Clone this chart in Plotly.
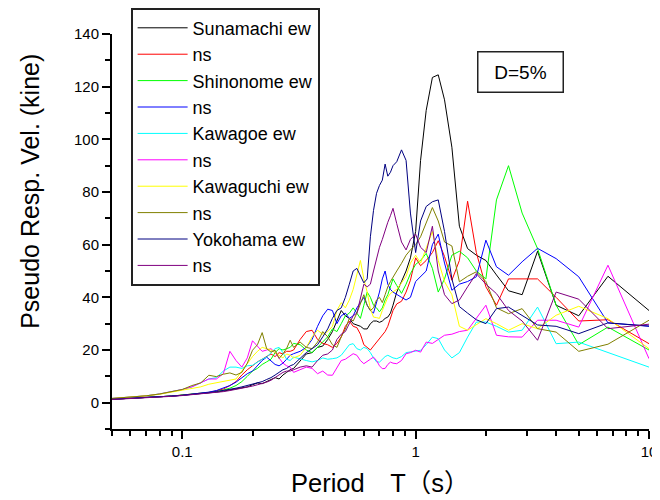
import plotly.graph_objects as go

# Period grid (s)
periods = [0.05, 0.06, 0.07, 0.08, 0.09, 0.10, 0.11, 0.12, 0.13, 0.14,
           0.15, 0.16, 0.17, 0.18, 0.19, 0.20, 0.21, 0.22, 0.23, 0.24,
           0.25, 0.26, 0.27, 0.28, 0.29, 0.30, 0.32, 0.34, 0.36, 0.38,
           0.40, 0.42, 0.44, 0.46, 0.48, 0.50, 0.52, 0.54, 0.56, 0.58,
           0.60, 0.62, 0.64, 0.66, 0.68, 0.70, 0.72, 0.74, 0.76, 0.78,
           0.80, 0.83, 0.87, 0.91, 0.95, 1.00, 1.05, 1.11, 1.18, 1.25,
           1.33, 1.43, 1.54, 1.67, 1.82, 2.00, 2.22, 2.50, 2.86, 3.33,
           4.00, 5.00, 6.67, 10.0]

sunamachi_ew = [1.3, 1.6, 1.9, 2.2, 2.5, 2.8, 3.1, 3.4, 3.7, 4.0,
                4.4, 4.8, 5.2, 5.5, 6.0, 6.8, 7.5, 7.2, 8.0, 9.0,
                9.5, 9.0, 10.5, 11.5, 12.5, 13.0, 16.0, 18.5, 19.0, 21.0,
                21.5, 24.0, 27.0, 31.0, 35.0, 33.0, 32.0, 30.0, 29.5, 29.0,
                28.0, 28.0, 30.0, 31.0, 31.0, 30.5, 31.0, 32.0, 32.5, 34.0,
                37.0, 42.0, 46.0, 50.0, 55.0, 65.0, 92.0, 111.0, 123.5, 124.5,
                115.0, 97.0, 67.0, 58.5, 56.0, 54.0, 48.5, 42.5, 41.0, 57.5,
                37.0, 33.0, 48.0, 35.0]
sunamachi_ns = [1.3, 1.6, 1.9, 2.2, 2.5, 2.9, 3.2, 3.5, 3.9, 4.5,
                5.2, 6.5, 8.0, 10.5, 12.5, 14.0, 15.5, 16.5, 17.5, 18.5,
                17.5, 19.0, 18.5, 19.5, 19.5, 20.0, 24.0, 27.0, 27.5, 24.0,
                22.5, 22.0, 21.0, 22.5, 25.0, 29.0, 31.0, 29.0, 28.5, 26.0,
                22.0, 21.0, 20.0, 21.5, 23.0, 24.0, 25.5, 27.0, 29.0, 32.0,
                35.0, 37.5, 38.5, 42.0, 46.5, 55.0, 52.0, 54.0, 57.0, 61.5,
                55.5, 46.5, 54.0, 76.5, 57.0, 44.0, 37.0, 47.0, 47.0, 47.0,
                40.0, 31.0, 31.5, 22.4]
shinonome_ew = [1.3, 1.6, 1.9, 2.2, 2.5, 2.9, 3.2, 3.5, 3.8, 4.2,
                4.8, 5.5, 6.5, 8.0, 10.0, 12.0, 13.0, 14.5, 15.5, 16.5,
                19.0, 20.5, 20.0, 20.5, 21.0, 22.5, 22.0, 20.0, 19.0, 21.0,
                23.0, 25.0, 28.0, 27.0, 30.0, 33.0, 34.0, 36.0, 34.0, 32.0,
                37.0, 42.0, 40.0, 37.0, 36.0, 34.5, 36.0, 39.0, 41.0, 44.0,
                47.0, 44.5, 41.5, 45.0, 49.0, 52.5, 54.0, 56.7, 51.0, 42.0,
                47.0, 56.0, 57.5, 55.0, 50.0, 47.0, 77.0, 90.0, 72.0, 58.5,
                37.0, 22.0, 28.7, 20.0]
shinonome_ns = [1.3, 1.6, 1.9, 2.2, 2.5, 2.8, 3.2, 3.6, 4.0, 4.6,
                5.5, 6.5, 7.8, 9.5, 11.0, 12.0, 14.0, 16.0, 17.3, 16.0,
                14.5, 14.0, 15.0, 16.5, 18.0, 18.6, 19.5, 21.0, 24.0, 29.0,
                33.0, 35.5, 35.0, 30.0, 33.0, 34.0, 32.0, 33.0, 36.0, 38.0,
                40.0, 37.0, 35.0, 34.0, 38.0, 42.0, 47.0, 50.0, 45.0, 43.0,
                42.0, 41.0, 40.0, 39.0, 40.0, 46.0, 48.0, 50.0, 60.0, 64.0,
                53.0, 42.7, 45.0, 46.0, 47.8, 61.7, 51.6, 48.4, 53.5, 58.6,
                54.7, 47.8, 30.3, 29.0]
kawagoe_ew = [1.6, 2.0, 2.6, 3.3, 4.1, 5.0, 6.0, 7.5, 9.0, 9.5,
              12.0, 13.5, 13.5, 13.0, 14.0, 14.2, 15.5, 16.5, 17.3, 19.0,
              20.5, 21.0, 19.0, 16.5, 16.0, 17.3, 16.5, 16.0, 15.5, 16.0,
              17.0, 16.5, 16.7, 17.0, 18.0, 20.0, 22.0, 22.4, 20.5, 20.0,
              21.0, 20.5, 19.0, 17.0, 15.5, 15.4, 16.5, 17.5, 18.0, 17.5,
              17.0, 16.7, 17.5, 19.0, 19.2, 19.5, 19.9, 22.0, 24.9, 24.3,
              20.0, 17.0, 19.0, 24.9, 30.6, 30.6, 29.0, 26.8, 27.5, 36.3,
              22.4, 23.0, 19.0, 13.5]
kawagoe_ns = [1.6, 2.0, 2.6, 3.3, 4.1, 5.0, 6.0, 7.5, 9.0, 9.0,
              11.0, 19.5, 16.0, 13.5, 17.0, 23.5, 21.5, 19.5, 20.0, 20.5,
              19.0, 17.0, 15.0, 14.0, 13.5, 11.5, 12.5, 13.5, 13.0, 11.0,
              12.0, 10.5, 10.4, 13.0, 16.0, 16.5, 17.5, 18.6, 18.0, 16.0,
              14.8, 15.5, 16.5, 17.3, 16.0, 14.0, 12.9, 13.0, 14.5, 15.4,
              15.0, 14.8, 16.0, 18.6, 19.0, 19.9, 19.2, 23.0, 22.5, 24.0,
              25.6, 26.0, 27.0, 27.5, 32.0, 37.0, 25.6, 25.0, 24.9, 31.3,
              31.3, 28.7, 52.2, 16.7]
kawaguchi_ew = [1.6, 2.0, 2.6, 3.2, 4.0, 4.8, 5.5, 6.0, 7.0, 7.5,
                8.0, 8.5, 9.0, 12.0, 15.0, 17.5, 19.5, 21.0, 20.5, 20.0,
                19.0, 18.0, 17.0, 18.5, 18.0, 17.0, 18.0, 21.0, 25.0, 27.5,
                26.0, 27.0, 29.0, 35.0, 38.0, 36.0, 39.0, 43.0, 49.0, 54.0,
                47.0, 42.0, 35.5, 32.5, 32.3, 32.0, 35.0, 37.5, 40.0, 41.5,
                42.0, 43.0, 45.5, 48.0, 53.0, 56.0, 53.0, 59.0, 65.0, 54.0,
                46.0, 41.0, 29.0, 27.5, 29.5, 31.9, 30.0, 27.5, 30.0, 28.1,
                33.2, 36.6, 31.9, 20.5]
kawaguchi_ns = [1.6, 2.0, 2.6, 3.3, 4.1, 5.0, 6.5, 7.5, 10.4, 9.9,
                10.8, 11.3, 10.5, 11.5, 15.0, 19.9, 22.0, 26.6, 20.5, 19.2,
                19.9, 16.8, 18.5, 20.6, 23.7, 21.0, 23.0, 21.0, 20.5, 23.0,
                27.0, 25.0, 22.0, 21.0, 25.0, 28.0, 32.0, 31.0, 34.0, 38.0,
                41.0, 37.0, 35.0, 36.0, 39.0, 40.0, 38.0, 41.0, 44.0, 46.0,
                47.8, 50.0, 52.9, 56.0, 58.0, 60.0, 63.0, 68.0, 74.1, 69.0,
                61.0, 59.5, 45.9, 48.0, 49.7, 46.0, 36.0, 33.8, 35.7, 28.1,
                26.8, 19.5, 22.2, 31.3]
yokohama_ew = [1.3, 1.6, 1.9, 2.2, 2.5, 2.8, 3.1, 3.4, 3.8, 4.2,
               4.6, 5.0, 5.5, 6.0, 6.5, 7.0, 7.5, 8.0, 8.8, 9.5,
               10.5, 11.5, 12.5, 13.0, 14.0, 14.5, 17.0, 19.0, 20.5, 22.0,
               25.0, 28.0, 32.0, 35.0, 36.0, 40.0, 45.0, 50.0, 51.0, 48.0,
               45.5, 47.0, 63.0, 73.0, 79.5, 82.5, 84.5, 90.6, 86.0, 87.5,
               90.0, 91.5, 96.0, 92.0, 72.0, 57.0, 69.0, 74.5, 76.3, 77.0,
               65.0, 47.0, 36.5, 34.0, 31.5, 30.0, 35.7, 36.3, 33.0, 29.5,
               29.0, 26.2, 30.3, 29.1]
yokohama_ns = [1.2, 1.5, 1.8, 2.1, 2.4, 2.7, 3.0, 3.3, 3.6, 3.9,
               4.2, 4.6, 5.0, 5.4, 5.8, 6.3, 6.8, 7.2, 7.8, 8.5,
               9.5, 10.5, 11.5, 12.0, 12.0, 12.5, 13.5, 14.0, 13.5, 16.0,
               18.0, 18.5, 20.0, 24.0, 26.0, 27.0, 30.0, 33.0, 34.0, 40.0,
               45.0, 44.0, 45.0, 50.0, 55.0, 59.0, 62.0, 65.5, 68.5, 71.0,
               73.8, 68.0, 61.0, 58.0, 62.0, 64.0, 59.0, 57.0, 67.0, 50.0,
               41.0, 37.6, 39.0, 44.0, 49.0, 45.0, 41.4, 35.0, 31.0, 23.7,
               42.0, 39.3, 28.1, 29.8]

names = ["Sunamachi ew", "ns", "Shinonome ew", "ns", "Kawagoe ew", "ns",
         "Kawaguchi ew", "ns", "Yokohama ew", "ns"]
series = [sunamachi_ew, sunamachi_ns, shinonome_ew, shinonome_ns, kawagoe_ew,
          kawagoe_ns, kawaguchi_ew, kawaguchi_ns, yokohama_ew, yokohama_ns]
colors = ["#000000", "#FF0000", "#00FF00", "#0000FF", "#00FFFF",
          "#FF00FF", "#FFFF00", "#808000", "#000080", "#800080"]

x_tickvals = [0.1, 1, 10]
x_ticktext = ["0.1", "1", "10"]
x_minor = [0.05, 0.06, 0.07, 0.08, 0.09, 0.2, 0.3, 0.4, 0.5, 0.6, 0.7, 0.8, 0.9,
           2, 3, 4, 5, 6, 7, 8, 9]
y_tickvals = [0, 20, 40, 60, 80, 100, 120, 140]

FONT = "Liberation Sans, Arial, Noto Sans CJK JP, sans-serif"

fig = go.Figure()
for name, vals, col in zip(names, series, colors):
    fig.add_trace(go.Scatter(x=periods, y=vals, mode="lines", name=name,
                             line=dict(color=col, width=1)))

# the page body adds an 8px offset, so the figure is 652x492 drawn at (8, 8)
fig.update_layout(
    width=652, height=492,
    margin=dict(l=104, r=11, t=26, b=71, autoexpand=False),
    paper_bgcolor="white", plot_bgcolor="white",
    font=dict(family=FONT, color="black"),
    showlegend=True,
    legend=dict(x=0.0354, y=1.0658, xanchor="left", yanchor="top",
                bgcolor="white", bordercolor="#222222", borderwidth=1.6,
                font=dict(family=FONT, size=18, color="black"),
                tracegroupgap=0, itemwidth=50, maxheight=400),
    xaxis=dict(type="log", range=[-1.30103, 1.0], showgrid=False, zeroline=False,
               showline=True, linecolor="black", linewidth=2,
               ticks="outside", ticklen=8, tickwidth=2, tickcolor="black",
               tickmode="array", tickvals=x_tickvals, ticktext=x_ticktext,
               tickfont=dict(size=15, color="black"),
               minor=dict(ticks="outside", ticklen=5, tickwidth=1.5,
                          tickcolor="black", tickmode="array", tickvals=x_minor,
                          showgrid=False)),
    yaxis=dict(range=[-10, 140], showgrid=False, zeroline=False,
               showline=True, linecolor="black", linewidth=2,
               ticks="outside", ticklen=8, tickwidth=2, tickcolor="black",
               tickmode="array", tickvals=y_tickvals,
               tickfont=dict(size=15, color="black"),
               minor=dict(ticks="outside", ticklen=5, tickwidth=1.5,
                          tickcolor="black", dtick=10, showgrid=False)),
    annotations=[
        dict(text="D=5%", xref="paper", yref="paper", x=0.7616, y=0.905,
             xanchor="center", yanchor="middle", showarrow=False,
             font=dict(size=19, color="black", family=FONT),
             bordercolor="#222222", borderwidth=1.5, borderpad=2,
             width=80, height=35, bgcolor="white"),
        dict(text="Pseudo Resp. Vel. (kine)", xref="paper", yref="paper",
             x=-0.153, y=0.6025, xanchor="center", yanchor="middle",
             textangle=-90, showarrow=False,
             font=dict(size=25, color="black", family=FONT)),
        dict(text="Period\u3000T\uff08s\uff09", xref="paper", yref="paper",
             x=0.5, y=-0.1367, xanchor="center", yanchor="middle",
             showarrow=False, font=dict(size=25.5, color="black", family=FONT)),
    ],
)

fig.write_html("out.html")
